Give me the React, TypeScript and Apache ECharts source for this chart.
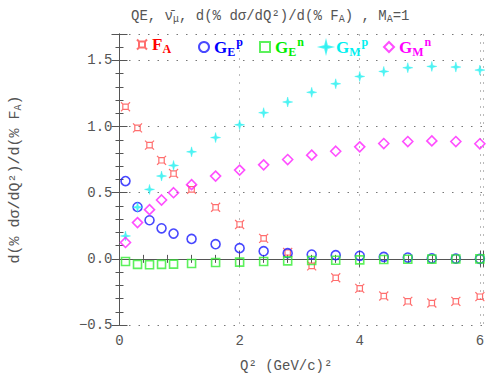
import React, { useEffect, useRef } from "react";
import * as echarts from "echarts";

const q2 = [0.1, 0.3, 0.5, 0.7, 0.9, 1.2, 1.6, 2.0, 2.4, 2.8, 3.2, 3.6, 4.0, 4.4, 4.8, 5.2, 5.6, 6.0];
const fa = [1.15, 0.99, 0.86, 0.745, 0.645, 0.525, 0.39, 0.26, 0.155, 0.048, -0.053, -0.143, -0.223, -0.281, -0.321, -0.334, -0.321, -0.286];
const gep = [0.588, 0.392, 0.292, 0.231, 0.191, 0.151, 0.111, 0.081, 0.058, 0.043, 0.033, 0.028, 0.023, 0.015, 0.01, 0.004, 0.002, 0.0];
const gen = [-0.02, -0.042, -0.045, -0.042, -0.04, -0.035, -0.027, -0.025, -0.02, -0.015, -0.012, -0.01, -0.008, -0.005, -0.003, -0.002, -0.001, 0.0];
const gmp = [0.173, 0.39, 0.525, 0.626, 0.706, 0.809, 0.917, 1.013, 1.105, 1.186, 1.259, 1.324, 1.379, 1.417, 1.445, 1.455, 1.45, 1.427];
const gmn = [0.124, 0.274, 0.372, 0.445, 0.5, 0.561, 0.626, 0.671, 0.711, 0.751, 0.784, 0.814, 0.847, 0.872, 0.887, 0.892, 0.887, 0.87];

const seriesNames = ["FA", "GEp", "GEn", "GMp", "GMn"];
const legendLabels: Record<string, string> = {
  FA: "{b|F}{sub|A}",
  GEp: "{b|G}{sub|E}{sup|p}",
  GEn: "{b|G}{sub|E}{sup|n}",
  GMp: "{b|G}{sub|M}{sup|p}",
  GMn: "{b|G}{sub|M}{sup|n}",
};
const colors = ["#ff4a4a", "#1a1aff", "#33ee33", "#22f0f0", "#ff22ff"];
const textColors = ["#ff0000", "#0000ff", "#00ee00", "#00f0f0", "#ff00ff"];
const legendLeft = [136, 198, 259, 320, 383];

const FONT = "'Liberation Mono', monospace";

export default function App() {
  const ref = useRef<HTMLDivElement>(null);
  useEffect(() => {
    if (!ref.current) return;
    const chart = echarts.init(ref.current, undefined, { renderer: "svg" });
    const pair = (ys: number[]) => q2.map((x, i) => [x, ys[i]]);
    const faPath = "path://M2 2L8 2L8 8L2 8ZM0 0L2 2M10 0L8 2M0 10L2 8M10 10L8 8";
    const starPath = "path://M5 0L6 4L10 5L6 6L5 10L4 6L0 5L4 4Z";
    const datas = [fa, gep, gen, gmp, gmn];
    const symbols = [faPath, "circle", "rect", starPath, "diamond"];
    const sizes = [9, 9, 8, 10, 10];
    const series = datas.map((d, i) => ({
      type: "scatter",
      name: seriesNames[i],
      data: pair(d),
      symbol: symbols[i],
      symbolSize: sizes[i],
      itemStyle:
        i === 3
          ? { color: colors[i], borderColor: colors[i], borderWidth: 0.5 }
          : { color: "transparent", borderColor: colors[i], borderWidth: i === 0 ? 1.2 : 1.6 },
      emphasis: { disabled: true },
    }));
    const legendRich = {
      b: { fontFamily: "'Liberation Serif', serif", fontSize: 17, fontWeight: "bold" },
      sub: { fontFamily: "'Liberation Serif', serif", fontSize: 12, fontWeight: "bold", verticalAlign: "bottom", padding: [9, 0, 0, 0] },
      sup: { fontFamily: "'Liberation Serif', serif", fontSize: 12, fontWeight: "bold", verticalAlign: "top", padding: [0, 0, 10, 1] },
    };
    const legends = seriesNames.map((n, i) => ({
      data: [n],
      left: legendLeft[i],
      top: 36,
      padding: 0,
      itemWidth: 10,
      itemHeight: 10,
      selectedMode: false,
      formatter: (name: string) => legendLabels[name],
      textStyle: { color: textColors[i], rich: legendRich },
    }));
    const axisCommon = {
      axisLine: { lineStyle: { color: "#555", width: 1 } },
      axisTick: { inside: true, length: 8, lineStyle: { color: "#555" } },
      minorTick: { show: true, splitNumber: 5, length: 4, lineStyle: { color: "#555" } },
    };
    chart.setOption({
      animation: false,
      backgroundColor: "#fff",
      title: {
        text: "{t|QE, ν̄}{s|μ}{t|, d(% dσ/dQ²)/d(% F}{s|A}{t|) , M}{s|A}{t|=1}",
        left: 126,
        top: 3,
        textStyle: {
          fontWeight: "normal",
          rich: {
            t: { fontFamily: FONT, fontSize: 14, fontWeight: "normal", color: "#555" },
            s: { fontFamily: FONT, fontSize: 10, fontWeight: "normal", color: "#555", verticalAlign: "bottom", padding: [6, 0, 0, 0] },
          },
        },
      },
      legend: legends,
      grid: { left: 111, right: 4, top: 34, bottom: 58 },
      xAxis: [
        {
          type: "value",
          min: 0,
          max: 6.05,
          interval: 2,
          position: "bottom",
          ...axisCommon,
          axisLabel: { showMaxLabel: false, fontFamily: FONT, fontSize: 14, color: "#555", margin: 9 },
          splitLine: { show: true, lineStyle: { color: "#bbb", type: [2, 6] } },
          name: "Q² (GeV/c)²",
          nameLocation: "middle",
          nameGap: 34,
          nameTextStyle: { fontFamily: FONT, fontSize: 14, color: "#555", padding: [0, 30, 0, 0] },
        },
        {
          type: "value",
          min: 0,
          max: 6.05,
          interval: 2,
          position: "top",
          ...axisCommon,
          axisLabel: { show: false },
          splitLine: { show: false },
        },
      ],
      yAxis: [
        {
          type: "value",
          min: -0.5,
          max: 1.7,
          interval: 0.5,
          position: "left",
          ...axisCommon,
          axisLabel: {
            showMaxLabel: false,
            fontFamily: FONT,
            fontSize: 14,
            color: "#555",
            margin: 7,
            formatter: (v: number) => (v < 0 ? "−" + Math.abs(v).toFixed(1) : v.toFixed(1)),
          },
          splitLine: { show: true, lineStyle: { color: "#777", type: [1.5, 8] } },
          name: "{a|d(% dσ/dQ²)/d(% F}{s|A}{a|)}",
          nameLocation: "middle",
          nameGap: 96,
          nameTextStyle: {
            rich: {
              a: { fontFamily: FONT, fontSize: 15, color: "#555" },
              s: { fontFamily: FONT, fontSize: 10, color: "#555", verticalAlign: "bottom", padding: [6, 0, 0, 0] },
            },
          },
        },
        {
          type: "value",
          min: -0.5,
          max: 1.7,
          interval: 0.5,
          position: "right",
          ...axisCommon,
          axisLabel: { show: false },
          splitLine: { show: false },
        },
      ],
      series,
    });
    return () => chart.dispose();
  }, []);
  return <div ref={ref} style={{ width: 487, height: 383, position: "absolute", left: 0, top: 0 }} />;
}
